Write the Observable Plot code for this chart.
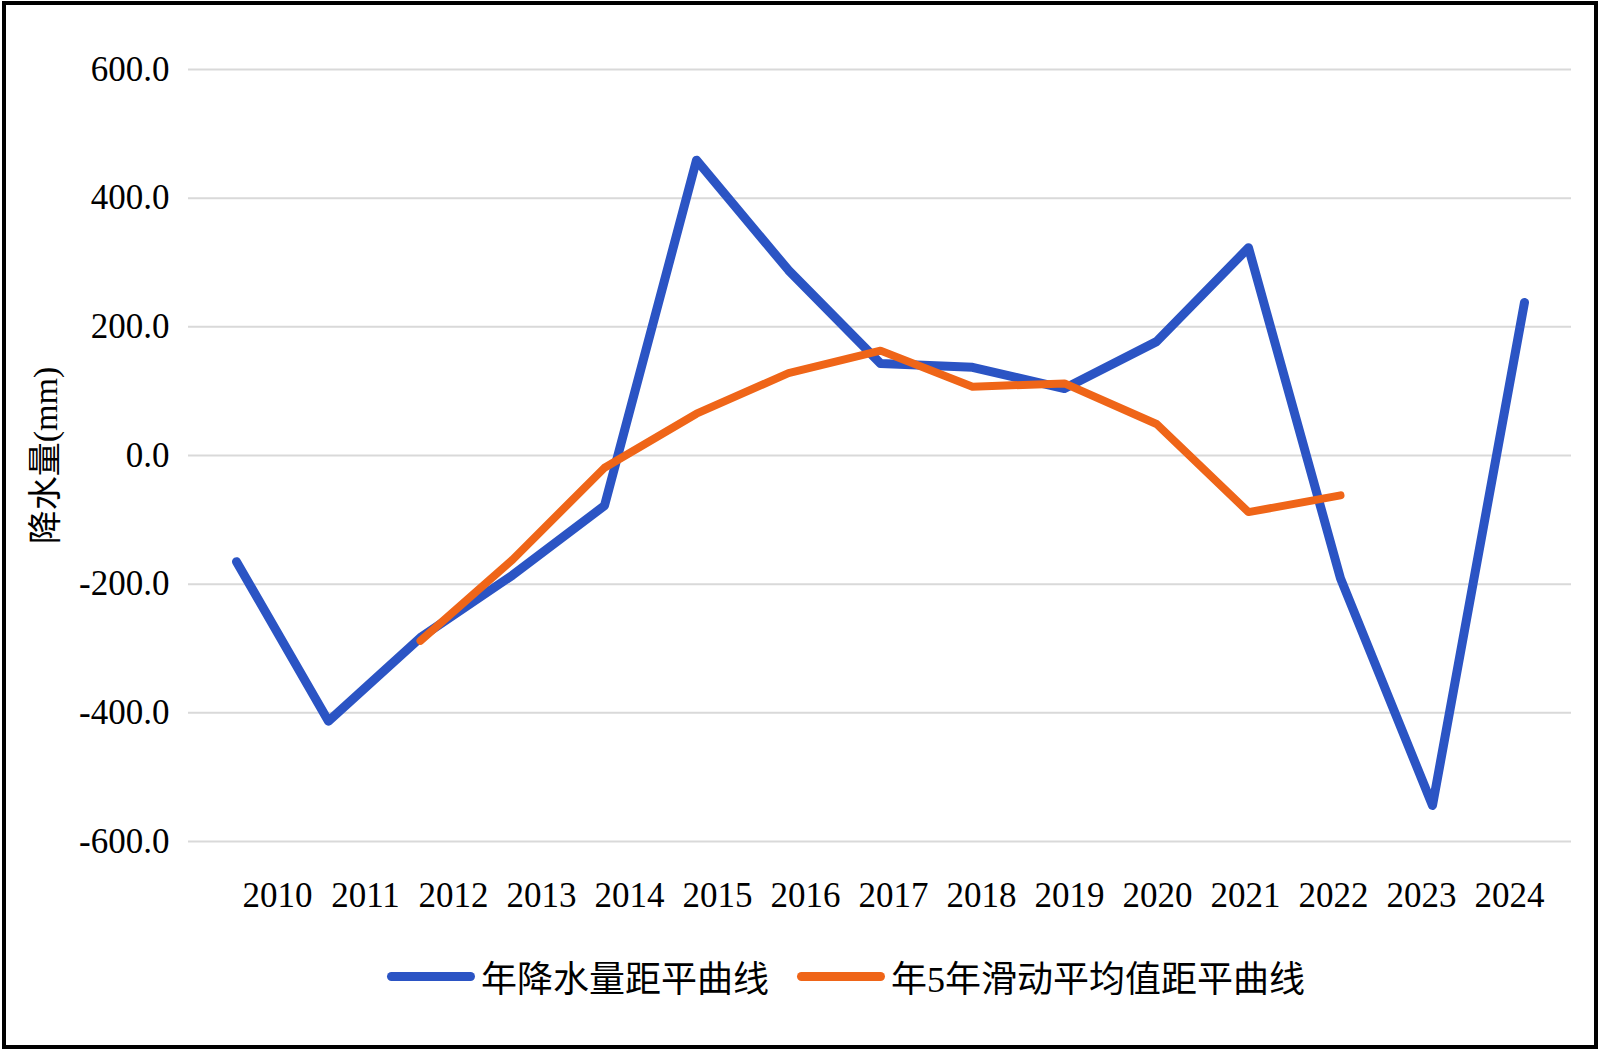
<!DOCTYPE html>
<html>
<head>
<meta charset="utf-8">
<script src="https://cdn.jsdelivr.net/npm/d3@7"></script>
<script src="https://cdn.jsdelivr.net/npm/@observablehq/plot@0.6"></script>
<style>
  html, body { margin: 0; padding: 0; background: #fff; }
  #frame {
    position: absolute; left: 2px; top: 1px; width: 1596px; height: 1048px;
    border: 4px solid #000; box-sizing: border-box; pointer-events: none; z-index: 5;
  }
  #chart, #xaxis { position: absolute; left: 0; top: 0; }
  #legend {
    position: absolute; left: 46px; top: 950px; width: 1600px;
    display: flex; justify-content: center; align-items: center;
    font-family: "Liberation Serif", "Times New Roman", "DejaVu Serif", "Noto Sans CJK SC", serif; font-size: 36px; color: #000;
  }
  .item { display: flex; align-items: center; margin: 0 14px; }
  .sw { width: 88px; height: 9px; border-radius: 5px; margin-right: 6px; }
</style>
</head>
<body>
<div id="chart"></div><div id="xaxis"></div><div id="legend"></div><div id="frame"></div>
<script>
const years = ["2010","2011","2012","2013","2014","2015","2016","2017","2018","2019","2020","2021","2022","2023","2024"];
const anomaly = [-165, -413, -283, -186, -78, 459, 288, 143, 137, 104, 177, 323, -191, -544, 238];
const movingYears = ["2012","2013","2014","2015","2016","2017","2018","2019","2020","2021","2022"];
const movingAvg = [-288, -162, -19, 65, 128, 163, 107, 112, 49, -88, -62];
const yTicks = [-600, -400, -200, 0, 200, 400, 600];
const seriesNames = ["年降水量距平曲线", "年5年滑动平均值距平曲线"];
const colors = ["#2B54C4", "#EF6518"];

const blue = years.map((y, i) => ({year: y, value: anomaly[i]}));
const orange = movingYears.map((y, i) => ({year: y, value: movingAvg[i]}));

const serif = "'Liberation Serif', 'Times New Roman', 'DejaVu Serif', 'Noto Sans CJK SC', serif";

const plot = Plot.plot({
  width: 1600,
  height: 930,
  marginLeft: 188,
  marginRight: 29,
  marginTop: 69,
  marginBottom: 89,
  style: {fontFamily: serif, fontSize: "34px", color: "#000", background: "transparent"},
  x: {type: "point", domain: years, padding: 0.5, label: null, axis: null},
  y: {domain: [-600, 600], ticks: yTicks, label: null},
  marks: [
    Plot.gridY(yTicks, {stroke: "#d9d9d9", strokeOpacity: 1, strokeWidth: 2}),
    Plot.axisY(yTicks, {tickSize: 0, tickPadding: 19, tickFormat: d => d.toFixed(1), label: null, fontSize: 35, fontFamily: serif}),
    Plot.axisY({ticks: [], label: "降水量(mm)", labelAnchor: "center", labelArrow: "none", labelOffset: 156, fontSize: 34, fontFamily: serif}),
    Plot.line(blue, {x: "year", y: "value", stroke: colors[0], strokeWidth: 9, strokeLinejoin: "round", strokeLinecap: "round"}),
    Plot.line(orange, {x: "year", y: "value", stroke: colors[1], strokeWidth: 8, strokeLinejoin: "round", strokeLinecap: "round"})
  ]
});
document.getElementById("chart").appendChild(plot);

// Category labels (spaced slightly tighter than the data points, as in the original)
const xAxisPlot = Plot.plot({
  width: 1600,
  height: 930,
  marginLeft: 229,
  marginRight: 44,
  marginTop: 69,
  marginBottom: 89,
  style: {fontFamily: serif, fontSize: "34px", color: "#000", background: "transparent"},
  x: {type: "point", domain: years, padding: 0.5, label: null},
  y: {domain: [-600, 600], axis: null},
  marks: [
    Plot.axisX({tickSize: 0, tickPadding: 41, label: null, fontSize: 35, fontFamily: serif})
  ]
});
document.getElementById("xaxis").appendChild(xAxisPlot);

const legend = document.getElementById("legend");
seriesNames.forEach((name, i) => {
  const it = document.createElement("div");
  it.className = "item";
  const sw = document.createElement("div");
  sw.className = "sw";
  sw.style.background = colors[i];
  const t = document.createElement("span");
  t.textContent = name;
  it.appendChild(sw); it.appendChild(t);
  legend.appendChild(it);
});
</script>
</body>
</html>
